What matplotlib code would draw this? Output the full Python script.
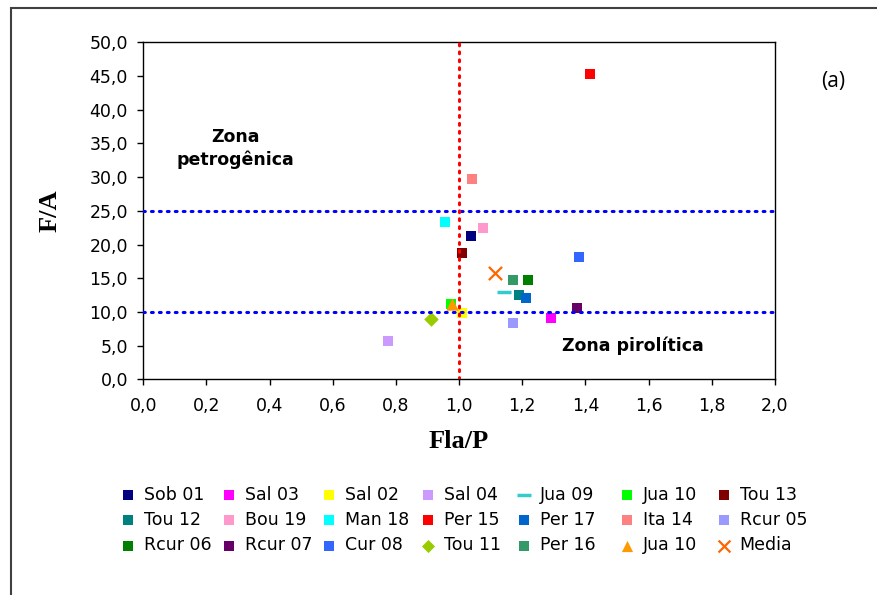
import matplotlib
matplotlib.use('Agg')
import matplotlib.pyplot as plt
from matplotlib.ticker import FuncFormatter


# values (Fla/P on x, F/A on y)
names = ['Sob 01', 'Sal 03', 'Sal 02', 'Sal 04', 'Jua 09', 'Jua 10', 'Tou 13',
         'Tou 12', 'Bou 19', 'Man 18', 'Per 15', 'Per 17', 'Ita 14', 'Rcur 05',
         'Rcur 06', 'Rcur 07', 'Cur 08', 'Tou 11', 'Per 16', 'Jua 10', 'Media']
fla_p = [1.039, 1.290, 1.010, 0.775, 1.143, 0.974, 1.008,
         1.188, 1.075, 0.956, 1.414, 1.212, 1.040, 1.170,
         1.219, 1.374, 1.380, 0.910, 1.171, 0.977, 1.114]
f_a = [21.2, 9.1, 9.9, 5.7, 13.0, 11.2, 18.8,
       12.5, 22.4, 23.4, 45.3, 12.0, 29.7, 8.35,
       14.7, 10.6, 18.1, 8.95, 14.7, 11.1, 15.7]
colours = ['#000080', '#FF00FF', '#FFFF00', '#CC99FF', '#33CCCC', '#00FF00', '#800000',
           '#008080', '#FF99CC', '#00FFFF', '#FF0000', '#0066CC', '#FF8080', '#9999FF',
           '#008000', '#660066', '#3366FF', '#99CC00', '#339966', '#FF9900', '#FF6600']
markers = ['s', 's', 's', 's', '_', 's', 's',
           's', 's', 's', 's', 's', 's', 's',
           's', 's', 's', 'D', 's', '^', 'x']

limit_fla_p = 1.0
limits_f_a = [10.0, 25.0]

x_ticks = [0.0, 0.2, 0.4, 0.6, 0.8, 1.0, 1.2, 1.4, 1.6, 1.8, 2.0]
y_ticks = [0, 5, 10, 15, 20, 25, 30, 35, 40, 45, 50]

W, H = 878, 595
figure = plt.figure(figsize=(W / 100, H / 100), dpi=100)
axis = figure.add_axes([143.3 / W, 1 - 379.3 / H, (775 - 143.3) / W, (379.3 - 42.3) / H])

# outer frame (cut off at right and bottom in the reference)
figure.patches.append(plt.Rectangle((11 / W, -0.5), 2.0, 0.5 + 1 - 8 / H,
                                    transform=figure.transFigure, fill=False,
                                    ec='#404040', lw=1.5))

handles = []
for (n, name) in enumerate(names):
    m = markers[n]
    if m == 'x':
        h = axis.scatter(fla_p[n], f_a[n], marker='x', s=90, c=colours[n], lw=1.6, zorder=2)
    elif m == '_':
        h = axis.scatter(fla_p[n], f_a[n], marker='_', s=110, c=colours[n], lw=2.5, zorder=2)
    elif m == 'D':
        h = axis.scatter(fla_p[n], f_a[n], marker='D', s=55, c=colours[n], lw=0, zorder=2)
    elif m == '^':
        h = axis.scatter(fla_p[n], f_a[n], marker='^', s=80, c=colours[n], lw=0, zorder=2)
    else:
        h = axis.scatter(fla_p[n], f_a[n], marker='s', s=60, c=colours[n], lw=0, zorder=2)
    handles.append(h)

for y in limits_f_a:
    axis.axhline(y, color='#0000FF', lw=2.2, ls=(0, (0.6, 2.0)), dash_capstyle='round', zorder=3)
axis.axvline(limit_fla_p, color='#FF0000', lw=2.2, ls=(0, (0.6, 2.0)), dash_capstyle='round', zorder=3)

axis.set_xlim(0, 2.0)
axis.set_ylim(0, 50)
axis.set_xticks(x_ticks)
axis.set_yticks(y_ticks)
axis.xaxis.set_major_formatter(FuncFormatter(lambda v, p: ('%.1f' % v).replace('.', ',')))
axis.yaxis.set_major_formatter(FuncFormatter(lambda v, p: ('%.1f' % v).replace('.', ',')))
axis.tick_params(direction='out', length=4, width=1, labelsize=12.5, pad=7)
axis.tick_params(axis='x', pad=9)
for s in axis.spines.values():
    s.set_linewidth(1.0)

axis.set_xlabel('Fla/P', family='Liberation Serif', fontweight='bold', fontsize=19)
axis.xaxis.set_label_coords(0.5, -0.15)
axis.set_ylabel('F/A', family='Liberation Serif', fontweight='bold', fontsize=19)
axis.yaxis.set_label_coords(-0.129, 0.5)

axis.text(0.146, 0.685, 'Zona\npetrogênica', transform=axis.transAxes, ha='center', va='center',
          fontsize=12.5, fontweight='bold', linespacing=1.3)
axis.text(0.775, 0.1, 'Zona pirolítica', transform=axis.transAxes, ha='center', va='center',
          fontsize=12.5, fontweight='bold')
figure.text(833 / W, 1 - 82 / H, '(a)', ha='center', va='center', fontsize=15, family='Open Sans')

# legend: 7 equal-width columns, filled row by row like the original
ncol = 7
column_x = [121.5, 222, 322, 421.5, 517.5, 620.5, 717]
for c in range(ncol):
    idx = [i for i in range(len(names)) if i % ncol == c]
    leg = figure.legend([handles[i] for i in idx], [names[i] for i in idx],
                        loc='upper left', bbox_to_anchor=(column_x[c] / W, 1 - 485.5 / H),
                        frameon=False, fontsize=12.5, handlelength=0.8, handletextpad=0.5,
                        labelspacing=0.42, borderpad=0, borderaxespad=0, scatterpoints=1,
                        markerscale=0.9)

plt.savefig('out.png', dpi=100)
